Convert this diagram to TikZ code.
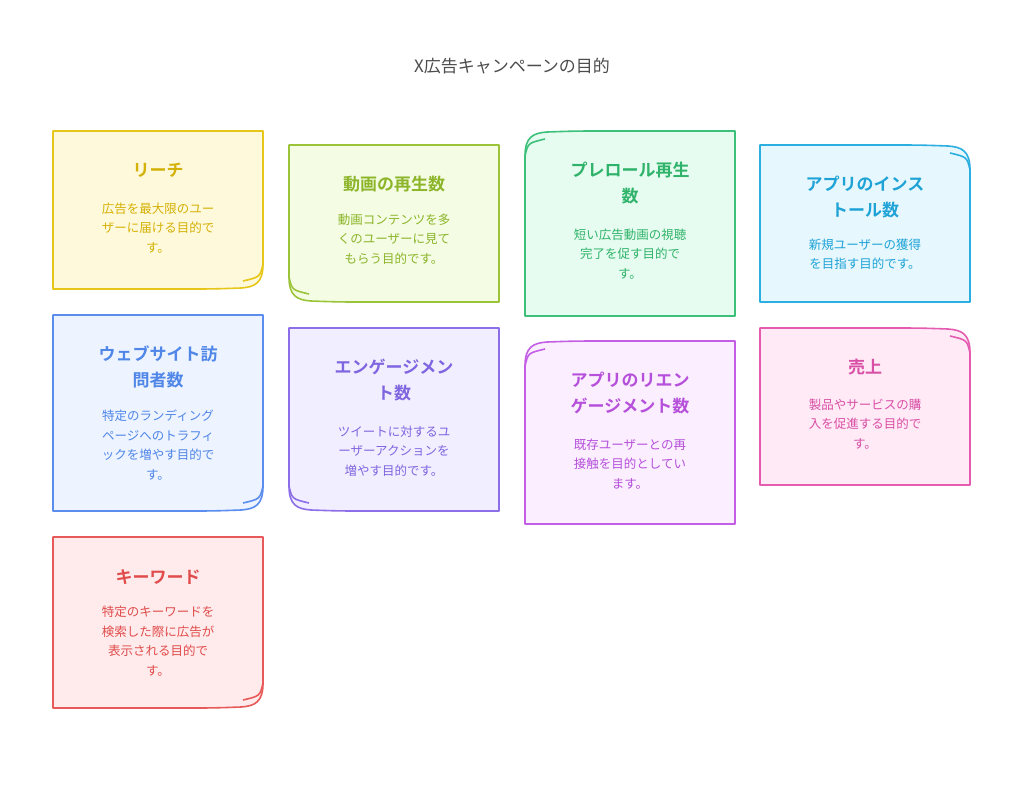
\documentclass[tikz,border=0pt]{standalone}
\usepackage{fontspec}
\setmainfont{Noto Sans CJK JP}
\newfontfamily\jpb{Noto Sans CJK JP}[BoldFont={* Bold}]
\definecolor{yB}{HTML}{E6C619}\definecolor{yF}{HTML}{FFF9DB}\definecolor{yT}{HTML}{D4B106}
\definecolor{lB}{HTML}{9CC43A}\definecolor{lF}{HTML}{F4FCE3}\definecolor{lT}{HTML}{8CB52A}
\definecolor{gB}{HTML}{3CC07A}\definecolor{gF}{HTML}{E6FCF0}\definecolor{gT}{HTML}{2FB36A}
\definecolor{cB}{HTML}{2BAEE0}\definecolor{cF}{HTML}{E7F7FE}\definecolor{cT}{HTML}{1FA3D6}
\definecolor{bB}{HTML}{5B8DEF}\definecolor{bF}{HTML}{EDF3FF}\definecolor{bT}{HTML}{4F86E8}
\definecolor{pB}{HTML}{8C6FE8}\definecolor{pF}{HTML}{F1EEFF}\definecolor{pT}{HTML}{8065E0}
\definecolor{vB}{HTML}{C45EE6}\definecolor{vF}{HTML}{FAEEFF}\definecolor{vT}{HTML}{B650DA}
\definecolor{kB}{HTML}{E45BB0}\definecolor{kF}{HTML}{FFEAF6}\definecolor{kT}{HTML}{D94FA5}
\definecolor{rB}{HTML}{E85A5A}\definecolor{rF}{HTML}{FFEBEB}\definecolor{rT}{HTML}{E04C4C}
\newcommand\cardBR[5]{\draw[card,draw=#5B,fill=#5F] (#1,#2) -- (#3,#2) -- (#3,{#4-25}) .. controls (#3,{#4-6}) and ({#3-8},{#4-2}) .. ({#3-22},{#4-1}) .. controls ({#3-50},#4) .. ({#3-85},#4) -- (#1,#4) -- cycle;
\draw[card,draw=#5B] (#3,{#4-25}) .. controls ({#3-3},{#4-12}) .. ({#3-20},{#4-8});}
\newcommand\cardBL[5]{\draw[card,draw=#5B,fill=#5F] (#1,#2) -- (#3,#2) -- (#3,#4) -- ({#1+85},#4) .. controls ({#1+50},#4) .. ({#1+22},{#4-1}) .. controls ({#1+8},{#4-2}) and (#1,{#4-6}) .. (#1,{#4-25}) -- cycle;
\draw[card,draw=#5B] (#1,{#4-25}) .. controls ({#1+3},{#4-12}) .. ({#1+20},{#4-8});}
\newcommand\cardTL[5]{\draw[card,draw=#5B,fill=#5F] (#1,{#2+25}) .. controls (#1,{#2+6}) and ({#1+8},{#2+2}) .. ({#1+22},{#2+1}) .. controls ({#1+50},#2) .. ({#1+85},#2) -- (#3,#2) -- (#3,#4) -- (#1,#4) -- cycle;
\draw[card,draw=#5B] (#1,{#2+25}) .. controls ({#1+3},{#2+12}) .. ({#1+20},{#2+8});}
\newcommand\cardTR[5]{\draw[card,draw=#5B,fill=#5F] (#1,#2) -- ({#3-85},#2) .. controls ({#3-50},#2) .. ({#3-22},{#2+1}) .. controls ({#3-8},{#2+2}) and (#3,{#2+6}) .. (#3,{#2+25}) -- (#3,#4) -- (#1,#4) -- cycle;
\draw[card,draw=#5B] (#3,{#2+25}) .. controls ({#3-3},{#2+12}) .. ({#3-20},{#2+8});}
\begin{document}
\begin{tikzpicture}[x=1pt,y=-1pt,
 card/.style={line width=1.6pt,line join=round},
 head/.style={font=\jpb\bfseries\fontsize{17}{26}\selectfont,align=center,inner sep=0},
 body/.style={font=\fontsize{12.5}{19.5}\selectfont,align=center,inner sep=0}]
\useasboundingbox[fill=white] (0,0) rectangle (1024,788);
\node[font=\fontsize{17}{20}\selectfont,text=black!70] (title) at (512,66) {X広告キャンペーンの目的};
\cardBR{53}{131}{263}{289}{y}
\node[head,text=yT] (h1) at (158,170) {リーチ};
\node[body,text=yT] (b1) at (158,228) {広告を最大限のユー\\ザーに届ける目的で\\す。};
\cardBL{289}{145}{499}{302}{l}
\node[head,text=lT] (h2) at (394,184) {動画の再生数};
\node[body,text=lT] (b2) at (394,239) {動画コンテンツを多\\くのユーザーに見て\\もらう目的です。};
\cardTL{525}{131}{735}{316}{g}
\node[head,text=gT] (h3) at (630,183) {プレロール再生\\数};
\node[body,text=gT] (b3) at (630,254) {短い広告動画の視聴\\完了を促す目的で\\す。};
\cardTR{760}{145}{970}{302}{c}
\node[head,text=cT] (h4) at (865,197) {アプリのインス\\トール数};
\node[body,text=cT] (b4) at (865,254) {新規ユーザーの獲得\\を目指す目的です。};
\cardBR{53}{315}{263}{511}{b}
\node[head,text=bT] (h5) at (158,367) {ウェブサイト訪\\問者数};
\node[body,text=bT] (b5) at (158,445) {特定のランディング\\ページへのトラフィ\\ックを増やす目的で\\す。};
\cardBL{289}{328}{499}{511}{p}
\node[head,text=pT] (h6) at (394,380) {エンゲージメン\\ト数};
\node[body,text=pT] (b6) at (394,451) {ツイートに対するユ\\ーザーアクションを\\増やす目的です。};
\cardTL{525}{341}{735}{524}{v}
\node[head,text=vT] (h7) at (630,393) {アプリのリエン\\ゲージメント数};
\node[body,text=vT] (b7) at (630,464) {既存ユーザーとの再\\接触を目的としてい\\ます。};
\cardTR{760}{328}{970}{485}{k}
\node[head,text=kT] (h8) at (865,367) {売上};
\node[body,text=kT] (b8) at (865,424) {製品やサービスの購\\入を促進する目的で\\す。};
\cardBR{53}{537}{263}{708}{r}
\node[head,text=rT] (h9) at (158,577) {キーワード};
\node[body,text=rT] (b9) at (158,641) {特定のキーワードを\\検索した際に広告が\\表示される目的で\\す。};
\end{tikzpicture}
\end{document}
